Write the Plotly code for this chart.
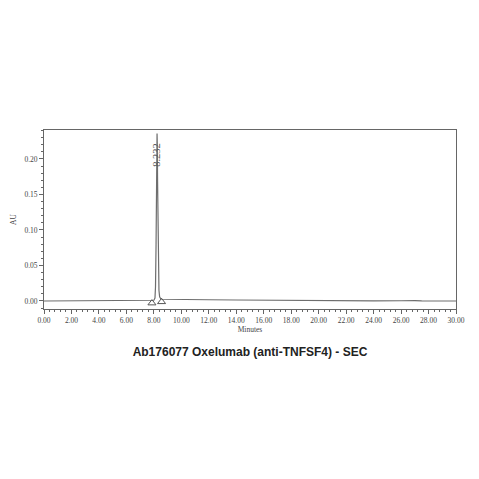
import plotly.graph_objects as go

# chromatogram trace (minutes, AU)
minutes = [0.0, 2.0, 4.0, 6.0, 6.5, 7.0, 7.5, 7.9, 8.0, 8.08, 8.12, 8.16, 8.19,
           8.21, 8.232, 8.25, 8.27, 8.30, 8.33, 8.37, 8.42, 8.5, 8.6, 9.0, 10.0,
           12.0, 14.0, 16.0, 17.0, 17.5, 18.0, 20.0, 24.0, 26.0, 26.5, 27.0,
           27.5, 30.0]
au = [0.0, 0.0, 0.0, 0.0, 0.0001, 0.0003, 0.0006, 0.0008, 0.0010, 0.004, 0.02,
      0.08, 0.16, 0.21, 0.236, 0.22, 0.17, 0.09, 0.04, 0.015, 0.006, 0.003,
      0.0024, 0.0022, 0.0020, 0.0017, 0.0014, 0.0011, 0.0008, 0.0003, 0.0002,
      0.0001, 0.0001, 0.0003, 0.0007, 0.0004, 0.0001, 0.0]

# peak start / end markers
marker_t = [7.86, 8.56]
marker_au = [-0.0030, -0.0012]

peak_rt = 8.232
peak_label = "8.232"

x_ticks = [0, 2, 4, 6, 8, 10, 12, 14, 16, 18, 20, 22, 24, 26, 28, 30]
y_ticks = [0.0, 0.05, 0.10, 0.15, 0.20]

line_col = "#6e6e6e"
axis_col = "#666666"
tick_font = dict(family="Liberation Serif", size=7.5, color="#444444")

# page body has an 8px margin, so the figure is sized to fit inside the window
W = H = 463

fig = go.Figure()
fig.add_trace(go.Scatter(x=minutes, y=au, mode="lines",
                         line=dict(color=line_col, width=1.2),
                         showlegend=False, hoverinfo="skip"))
fig.add_trace(go.Scatter(x=marker_t, y=marker_au, mode="markers",
                         marker=dict(symbol="triangle-up-open", size=7,
                                     color="#555555", line=dict(width=1)),
                         showlegend=False, hoverinfo="skip"))

fig.add_annotation(x=peak_rt, y=0.206, text=peak_label, textangle=-90,
                   showarrow=False, font=dict(family="Liberation Serif",
                                              size=10.5, color="#555555"))

fig.update_layout(
    width=W, height=H,
    margin=dict(l=36, r=15, t=122, b=162, autoexpand=False),
    paper_bgcolor="white", plot_bgcolor="white",
    title=dict(text="<b>Ab176077 Oxelumab (anti-TNFSF4) - SEC</b>",
               font=dict(family="Liberation Sans", size=12, color="#222222"),
               x=(250 - 8) / W, xanchor="center", y=1 - 344 / H, yanchor="middle"),
)
fig.update_xaxes(range=[0, 30], tickvals=x_ticks,
                 ticktext=["%.2f" % v for v in x_ticks],
                 ticks="outside", ticklen=4, tickcolor=axis_col,
                 showline=True, linecolor=axis_col, linewidth=1, mirror=True,
                 showgrid=False, zeroline=False, tickfont=tick_font,
                 automargin=False,
                 minor=dict(dtick=0.4, ticks="outside", ticklen=2, tickcolor=axis_col),
                 title=dict(text="Minutes", font=tick_font, standoff=2))
fig.update_yaxes(range=[-0.0113, 0.2408], tickvals=y_ticks,
                 ticktext=["%.2f" % v for v in y_ticks],
                 ticks="outside", ticklen=4, tickcolor=axis_col,
                 showline=True, linecolor=axis_col, linewidth=1, mirror=True,
                 showgrid=False, zeroline=False, tickfont=tick_font,
                 automargin=False,
                 minor=dict(dtick=0.01, ticks="outside", ticklen=2, tickcolor=axis_col),
                 title=dict(text="AU", font=tick_font, standoff=6))

fig.write_html("out.html")
